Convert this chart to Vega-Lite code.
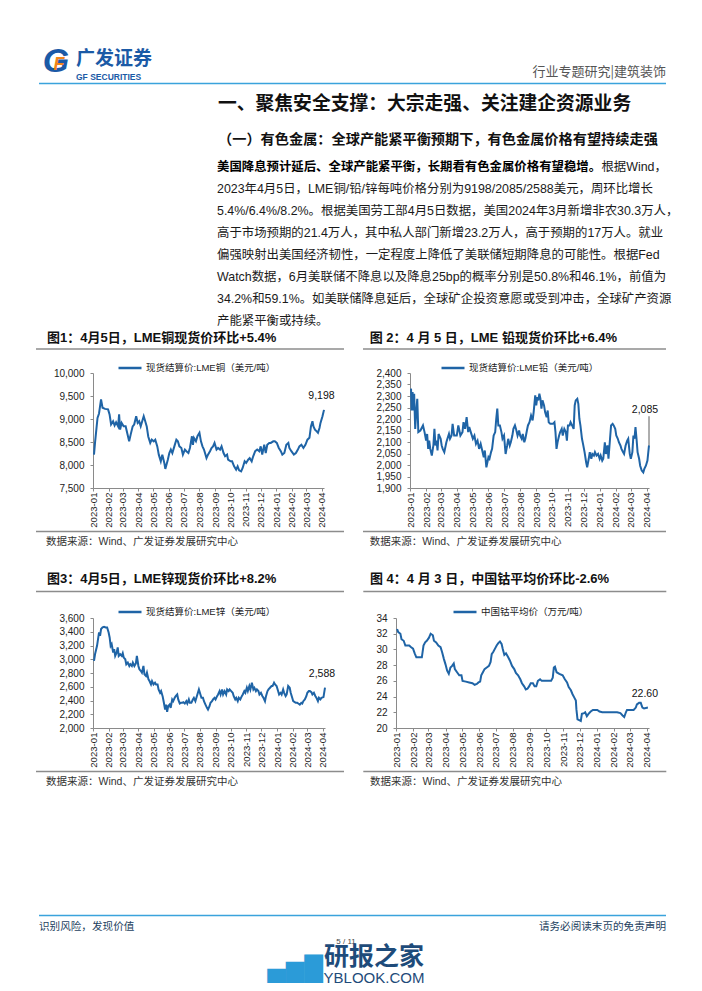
{
"$schema": "https://vega.github.io/schema/vega-lite/v6.json",
"background": "white",
"padding": {"left": 35, "top": 45, "right": 0, "bottom": 0},
"config": {
  "view": {"stroke": null},
  "font": "Liberation Sans, Noto Sans CJK SC",
  "text": {"font": "Liberation Sans, Noto Sans CJK SC"},
  "title": {"font": "Liberation Sans, Noto Sans CJK SC", "color": "#111"},
  "axis": {"labelFont": "Liberation Sans", "labelColor": "#222", "domainColor": "#8a8a8a", "tickColor": "#8a8a8a", "tickSize": 3, "grid": false, "labelFontSize": 10, "labelOverlap": false},
  "axisY": {"labelOverlap": false, "labelSeparation": -60, "labelPadding": 6},
  "legend": {"symbolType": "stroke", "symbolSize": 529, "symbolStrokeWidth": 2.5, "labelFontSize": 9.5, "labelFont": "Liberation Sans, Noto Sans CJK SC", "labelColor": "#222", "labelLimit": 400, "padding": 0, "labelOffset": 3, "direction": "horizontal"}
},
"spacing": 0,
"align": "none",
"resolve": {"scale": {"color": "independent"}, "legend": {"color": "independent"}},
"vconcat": [
  {
    "width": 573, "height": 23,
    "layer": [
      {"data": {"values": [{"k": 1}]}, "mark": {"type": "rule", "color": "#3AA3DC", "strokeWidth": 1.5},
       "encoding": {"x": {"datum": -0.0942, "type": "quantitative", "scale": {"domain": [0, 1]}, "axis": null}, "x2": {"datum": 1}, "y": {"datum": 0.5, "type": "quantitative", "scale": {"domain": [0, 1]}, "axis": null}}},
      {"data": {"values": [{"t": "行业专题研究|建筑装饰"}]}, "mark": {"type": "text", "align": "right", "baseline": "middle", "dy": -11.5, "fontSize": 13, "color": "#555", "font": "Noto Sans CJK SC"},
       "encoding": {"x": {"datum": 1, "type": "quantitative"}, "y": {"datum": 0.5, "type": "quantitative"}, "text": {"field": "t"}}},
      {"data": {"values": [{"t": "G"}]}, "mark": {"type": "text", "align": "center", "baseline": "middle", "dx": -37, "dy": -21.5, "fontSize": 34, "fontWeight": "bold", "fontStyle": "italic", "color": "#1B5AA6", "font": "Liberation Sans"},
       "encoding": {"x": {"datum": 0, "type": "quantitative"}, "y": {"datum": 0.5, "type": "quantitative"}, "text": {"field": "t"}}},
      {"data": {"values": [{"t": "F"}]}, "mark": {"type": "text", "align": "center", "baseline": "middle", "dx": -34, "dy": -19, "fontSize": 18, "fontWeight": "bold", "fontStyle": "italic", "color": "#F08519", "font": "Liberation Sans"},
       "encoding": {"x": {"datum": 0, "type": "quantitative"}, "y": {"datum": 0.5, "type": "quantitative"}, "text": {"field": "t"}}},
      {"data": {"values": [{"t": "广发证券"}]}, "mark": {"type": "text", "align": "left", "baseline": "middle", "dx": -17, "dy": -24.5, "fontSize": 19, "fontWeight": "bold", "color": "#1B5AA6", "font": "Noto Sans CJK SC"},
       "encoding": {"x": {"datum": 0, "type": "quantitative"}, "y": {"datum": 0.5, "type": "quantitative"}, "text": {"field": "t"}}},
      {"data": {"values": [{"t": "GF SECURITIES"}]}, "mark": {"type": "text", "align": "left", "baseline": "middle", "dx": -17, "dy": -6.5, "fontSize": 8.5, "fontWeight": "bold", "color": "#1B5AA6", "font": "Liberation Sans"},
       "encoding": {"x": {"datum": 0, "type": "quantitative"}, "y": {"datum": 0.5, "type": "quantitative"}, "text": {"field": "t"}}}
    ]
  },
  {
    "width": 573, "height": 176,
    "title": {"text": "一、聚焦安全支撑：大宗走强、关注建企资源业务", "subtitle": "（一）有色金属：全球产能紧平衡预期下，有色金属价格有望持续走强", "anchor": "start", "frame": "group", "dx": 125, "fontSize": 18.8, "fontWeight": "bold", "font": "Noto Sans CJK SC", "color": "#111", "subtitleFontSize": 14.2, "subtitleFontWeight": "bold", "subtitleFont": "Noto Sans CJK SC", "subtitleColor": "#111", "subtitlePadding": 19, "offset": 9},
    "layer": [
      {"data": {"values": [{"line": 1, "t": "美国降息预计延后、全球产能紧平衡，长期看有色金属价格有望稳增。"}]},
       "mark": {"type": "text", "align": "left", "baseline": "middle", "dx": 124, "fontSize": 12.4, "fontWeight": "bold", "color": "#000"},
       "encoding": {"x": {"datum": 0, "type": "quantitative", "scale": {"domain": [0, 1]}, "axis": null}, "y": {"field": "line", "type": "ordinal", "scale": {"domain": [1, 2, 3, 4, 5, 6, 7, 8]}, "axis": null}, "text": {"field": "t"}}},
      {"data": {"values": [{"line": 1, "t": "根据Wind，"}]},
       "mark": {"type": "text", "align": "left", "baseline": "middle", "dx": 508.4, "fontSize": 12.4, "color": "#1a1a1a"},
       "encoding": {"x": {"datum": 0, "type": "quantitative"}, "y": {"field": "line", "type": "ordinal"}, "text": {"field": "t"}}},
      {"data": {"values": [
        {"line": 2, "t": "2023年4月5日，LME铜/铅/锌每吨价格分别为9198/2085/2588美元，周环比增长"},
        {"line": 3, "t": "5.4%/6.4%/8.2%。根据美国劳工部4月5日数据，美国2024年3月新增非农30.3万人，"},
        {"line": 4, "t": "高于市场预期的21.4万人，其中私人部门新增23.2万人，高于预期的17万人。就业"},
        {"line": 5, "t": "偏强映射出美国经济韧性，一定程度上降低了美联储短期降息的可能性。根据Fed"},
        {"line": 6, "t": "Watch数据，6月美联储不降息以及降息25bp的概率分别是50.8%和46.1%，前值为"},
        {"line": 7, "t": "34.2%和59.1%。如美联储降息延后，全球矿企投资意愿或受到冲击，全球矿产资源"},
        {"line": 8, "t": "产能紧平衡或持续。"}
      ]},
       "mark": {"type": "text", "align": "left", "baseline": "middle", "dx": 124, "fontSize": 12.4, "color": "#1a1a1a"},
       "encoding": {"x": {"datum": 0, "type": "quantitative"}, "y": {"field": "line", "type": "ordinal"}, "text": {"field": "t"}}}
    ]
  },
  {
    "spacing": 126.5,
    "align": "none",
    "resolve": {"scale": {"color": "independent"}, "legend": {"color": "independent"}},
    "vconcat": [
      {
        "spacing": 25,
        "align": "none",
        "resolve": {"scale": {"color": "independent"}, "legend": {"color": "independent"}},
        "vconcat": [
          {
            "spacing": 17,
            "align": "none",
            "resolve": {"scale": {"color": "independent"}, "legend": {"color": "independent"}},
            "hconcat": [
              {
                "spacing": 2,
                "align": "none",
                "resolve": {"scale": {"color": "independent"}, "legend": {"color": "independent"}},
                "vconcat": [
                  {"width": 251, "height": 8, "data": {"values": [{"k": 1}]},
                   "title": {"text": "图1：4月5日，LME铜现货价环比+5.4%", "anchor": "start", "frame": "group", "dx": -46, "offset": 0, "fontSize": 13, "fontWeight": "bold"},
                   "mark": {"type": "rule", "color": "#8c8c8c", "strokeWidth": 1.3},
                   "encoding": {"x": {"datum": -0.2271, "type": "quantitative", "scale": {"domain": [0, 1]}, "axis": null}, "x2": {"datum": 1}, "y": {"datum": 0.5, "type": "quantitative", "scale": {"domain": [0, 1]}, "axis": null}}},
                  {"width": 231, "height": 115,
                   "data": {"values": [
{"d":"2023-01-03","v":8225},{"d":"2023-01-05","v":8480},{"d":"2023-01-10","v":9025},{"d":"2023-01-13","v":9120},{"d":"2023-01-17","v":9425},{"d":"2023-01-20","v":9245},{"d":"2023-01-25","v":9220},{"d":"2023-01-31","v":9210},{"d":"2023-02-03","v":9100},{"d":"2023-02-06","v":8880},{"d":"2023-02-10","v":8950},{"d":"2023-02-13","v":8860},{"d":"2023-02-16","v":8930},{"d":"2023-02-20","v":8840},{"d":"2023-02-22","v":9100},{"d":"2023-02-24","v":8770},{"d":"2023-02-27","v":8915},{"d":"2023-03-03","v":8840},{"d":"2023-03-07","v":8840},{"d":"2023-03-10","v":8700},{"d":"2023-03-14","v":8515},{"d":"2023-03-17","v":8660},{"d":"2023-03-21","v":8840},{"d":"2023-03-24","v":8880},{"d":"2023-03-28","v":9060},{"d":"2023-03-31","v":8915},{"d":"2023-04-03","v":8950},{"d":"2023-04-06","v":8840},{"d":"2023-04-12","v":9060},{"d":"2023-04-14","v":8990},{"d":"2023-04-18","v":8840},{"d":"2023-04-21","v":8620},{"d":"2023-04-25","v":8480},{"d":"2023-04-28","v":8550},{"d":"2023-05-02","v":8515},{"d":"2023-05-05","v":8550},{"d":"2023-05-09","v":8405},{"d":"2023-05-12","v":8225},{"d":"2023-05-16","v":8080},{"d":"2023-05-19","v":8225},{"d":"2023-05-23","v":8045},{"d":"2023-05-25","v":7915},{"d":"2023-05-30","v":8115},{"d":"2023-06-02","v":8260},{"d":"2023-06-05","v":8335},{"d":"2023-06-08","v":8260},{"d":"2023-06-12","v":8405},{"d":"2023-06-16","v":8550},{"d":"2023-06-19","v":8515},{"d":"2023-06-22","v":8405},{"d":"2023-06-26","v":8370},{"d":"2023-06-29","v":8225},{"d":"2023-07-03","v":8335},{"d":"2023-07-06","v":8300},{"d":"2023-07-10","v":8260},{"d":"2023-07-13","v":8370},{"d":"2023-07-17","v":8625},{"d":"2023-07-19","v":8440},{"d":"2023-07-21","v":8590},{"d":"2023-07-25","v":8515},{"d":"2023-07-28","v":8625},{"d":"2023-08-01","v":8700},{"d":"2023-08-04","v":8515},{"d":"2023-08-07","v":8405},{"d":"2023-08-10","v":8335},{"d":"2023-08-15","v":8150},{"d":"2023-08-18","v":8225},{"d":"2023-08-22","v":8300},{"d":"2023-08-25","v":8370},{"d":"2023-08-28","v":8405},{"d":"2023-08-31","v":8480},{"d":"2023-09-04","v":8335},{"d":"2023-09-07","v":8370},{"d":"2023-09-11","v":8335},{"d":"2023-09-14","v":8405},{"d":"2023-09-18","v":8260},{"d":"2023-09-21","v":8190},{"d":"2023-09-25","v":8225},{"d":"2023-09-27","v":8115},{"d":"2023-10-02","v":8080},{"d":"2023-10-05","v":8080},{"d":"2023-10-09","v":7970},{"d":"2023-10-13","v":7900},{"d":"2023-10-16","v":7970},{"d":"2023-10-19","v":7885},{"d":"2023-10-23","v":7860},{"d":"2023-10-26","v":7935},{"d":"2023-10-30","v":8080},{"d":"2023-11-02","v":8045},{"d":"2023-11-06","v":8115},{"d":"2023-11-09","v":8150},{"d":"2023-11-13","v":8080},{"d":"2023-11-16","v":8190},{"d":"2023-11-20","v":8300},{"d":"2023-11-24","v":8335},{"d":"2023-11-28","v":8300},{"d":"2023-12-01","v":8405},{"d":"2023-12-04","v":8225},{"d":"2023-12-08","v":8440},{"d":"2023-12-11","v":8260},{"d":"2023-12-14","v":8440},{"d":"2023-12-18","v":8480},{"d":"2023-12-21","v":8480},{"d":"2023-12-26","v":8515},{"d":"2023-12-29","v":8515},{"d":"2024-01-02","v":8480},{"d":"2024-01-06","v":8370},{"d":"2024-01-10","v":8300},{"d":"2024-01-13","v":8225},{"d":"2024-01-17","v":8260},{"d":"2024-01-21","v":8440},{"d":"2024-01-25","v":8480},{"d":"2024-01-27","v":8370},{"d":"2024-01-31","v":8300},{"d":"2024-02-05","v":8225},{"d":"2024-02-09","v":8260},{"d":"2024-02-13","v":8335},{"d":"2024-02-16","v":8405},{"d":"2024-02-20","v":8440},{"d":"2024-02-24","v":8370},{"d":"2024-02-28","v":8440},{"d":"2024-03-03","v":8550},{"d":"2024-03-07","v":8590},{"d":"2024-03-10","v":8840},{"d":"2024-03-13","v":8950},{"d":"2024-03-15","v":8840},{"d":"2024-03-18","v":8770},{"d":"2024-03-21","v":8735},{"d":"2024-03-24","v":8700},{"d":"2024-03-27","v":8805},{"d":"2024-03-29","v":8915},{"d":"2024-04-02","v":9060},{"d":"2024-04-05","v":9198}
                   ]},
                   "layer": [
                     {"mark": {"type": "line", "strokeWidth": 2},
                      "encoding": {
                        "x": {"field": "d", "type": "temporal", "scale": {"type": "utc", "domain": [{"year": 2023, "month": 1, "date": 1, "utc": true}, {"year": 2024, "month": 4, "date": 5, "utc": true}]}, "axis": {"format": "%Y-%m", "labelAngle": 270, "tickCount": {"interval": "month", "step": 1}, "title": null, "labelFontSize": 9.6, "labelPadding": 1, "labelFlush": false, "labelOverlap": false}},
                        "y": {"field": "v", "type": "quantitative", "scale": {"domain": [7500, 10000], "nice": false, "zero": false}, "axis": {"values": [7500, 8000, 8500, 9000, 9500, 10000], "format": ",.0f", "title": null, "labelOverlap": false, "labelSeparation": -60}},
                        "color": {"datum": "现货结算价:LME铜（美元/吨）", "scale": {"range": ["#1F64A6"]}, "legend": {"title": null, "orient": "none", "legendX": 24, "legendY": -18}}
                      }},
                     {"transform": [{"filter": "time(datum.d) == utc(2024,3,5)"}],
                      "mark": {"type": "text", "dy": -13.5, "dx": -2.5, "fontSize": 10.5, "color": "#111"},
                      "encoding": {"x": {"field": "d", "type": "temporal", "axis": {"format": "%Y-%m", "labelAngle": 270, "tickCount": {"interval": "month", "step": 1}, "title": null, "labelFontSize": 9.6, "labelPadding": 1, "labelFlush": false, "labelOverlap": false}}, "y": {"field": "v", "type": "quantitative", "axis": {"values": [7500, 8000, 8500, 9000, 9500, 10000], "format": ",.0f", "title": null, "labelOverlap": false, "labelSeparation": -60}}, "text": {"field": "v", "type": "quantitative", "format": ",.0f"}}}
                   ]},
                  {"width": 251, "height": 1, "data": {"values": [{"k": 1}]},
                   "title": {"text": "数据来源：Wind、广发证券发展研究中心", "orient": "bottom", "anchor": "start", "frame": "group", "dx": -47, "offset": 5, "fontSize": 10.5, "fontWeight": "normal", "color": "#333"},
                   "mark": {"type": "rule", "color": "#8c8c8c", "strokeWidth": 1.3},
                   "encoding": {"x": {"datum": -0.2271, "type": "quantitative", "scale": {"domain": [0, 1]}, "axis": null}, "x2": {"datum": 1}, "y": {"datum": 0.5, "type": "quantitative", "scale": {"domain": [0, 1]}, "axis": null}}}
                ]
              },
              {
                "spacing": 2,
                "align": "none",
                "resolve": {"scale": {"color": "independent"}, "legend": {"color": "independent"}},
                "vconcat": [
                  {"width": 256, "height": 8, "data": {"values": [{"k": 1}]},
                   "title": {"text": "图 2：4 月 5 日，LME 铅现货价环比+6.4%", "anchor": "start", "frame": "group", "dx": -40.3, "offset": 0, "fontSize": 13, "fontWeight": "bold"},
                   "mark": {"type": "rule", "color": "#8c8c8c", "strokeWidth": 1.3},
                   "encoding": {"x": {"datum": -0.1836, "type": "quantitative", "scale": {"domain": [0, 1]}, "axis": null}, "x2": {"datum": 1}, "y": {"datum": 0.5, "type": "quantitative", "scale": {"domain": [0, 1]}, "axis": null}}},
                  {"width": 239, "height": 115,
                   "data": {"values": [
{"d":"2023-01-03","v":2332},{"d":"2023-01-04","v":2237},{"d":"2023-01-06","v":2317},{"d":"2023-01-07","v":2237},{"d":"2023-01-09","v":2310},{"d":"2023-01-11","v":2157},{"d":"2023-01-13","v":2230},{"d":"2023-01-15","v":2288},{"d":"2023-01-17","v":2143},{"d":"2023-01-21","v":2150},{"d":"2023-01-26","v":2172},{"d":"2023-01-29","v":2143},{"d":"2023-02-01","v":2106},{"d":"2023-02-03","v":2135},{"d":"2023-02-05","v":2070},{"d":"2023-02-07","v":2106},{"d":"2023-02-09","v":2070},{"d":"2023-02-12","v":2041},{"d":"2023-02-15","v":2085},{"d":"2023-02-17","v":2157},{"d":"2023-02-19","v":2085},{"d":"2023-02-21","v":2106},{"d":"2023-02-23","v":2063},{"d":"2023-02-25","v":2135},{"d":"2023-03-01","v":2114},{"d":"2023-03-03","v":2085},{"d":"2023-03-05","v":2070},{"d":"2023-03-08","v":2056},{"d":"2023-03-12","v":2099},{"d":"2023-03-14","v":2114},{"d":"2023-03-17","v":2135},{"d":"2023-03-19","v":2114},{"d":"2023-03-22","v":2128},{"d":"2023-03-24","v":2179},{"d":"2023-03-27","v":2128},{"d":"2023-04-01","v":2128},{"d":"2023-04-04","v":2172},{"d":"2023-04-08","v":2128},{"d":"2023-04-12","v":2143},{"d":"2023-04-14","v":2186},{"d":"2023-04-17","v":2157},{"d":"2023-04-20","v":2208},{"d":"2023-04-23","v":2143},{"d":"2023-04-25","v":2165},{"d":"2023-04-28","v":2143},{"d":"2023-05-02","v":2114},{"d":"2023-05-05","v":2128},{"d":"2023-05-08","v":2092},{"d":"2023-05-11","v":2106},{"d":"2023-05-14","v":2070},{"d":"2023-05-17","v":2092},{"d":"2023-05-20","v":2063},{"d":"2023-05-23","v":2034},{"d":"2023-05-25","v":2063},{"d":"2023-05-28","v":1990},{"d":"2023-06-01","v":2034},{"d":"2023-06-03","v":2027},{"d":"2023-06-06","v":2056},{"d":"2023-06-08","v":2070},{"d":"2023-06-11","v":2128},{"d":"2023-06-14","v":2143},{"d":"2023-06-16","v":2201},{"d":"2023-06-18","v":2245},{"d":"2023-06-20","v":2172},{"d":"2023-06-23","v":2172},{"d":"2023-06-26","v":2143},{"d":"2023-06-28","v":2114},{"d":"2023-07-01","v":2128},{"d":"2023-07-04","v":2048},{"d":"2023-07-07","v":2085},{"d":"2023-07-09","v":2114},{"d":"2023-07-12","v":2085},{"d":"2023-07-14","v":2099},{"d":"2023-07-17","v":2128},{"d":"2023-07-19","v":2157},{"d":"2023-07-22","v":2172},{"d":"2023-07-24","v":2157},{"d":"2023-07-27","v":2128},{"d":"2023-07-30","v":2150},{"d":"2023-08-01","v":2128},{"d":"2023-08-04","v":2114},{"d":"2023-08-06","v":2135},{"d":"2023-08-09","v":2099},{"d":"2023-08-11","v":2114},{"d":"2023-08-14","v":2150},{"d":"2023-08-16","v":2172},{"d":"2023-08-19","v":2186},{"d":"2023-08-22","v":2215},{"d":"2023-08-25","v":2194},{"d":"2023-08-27","v":2230},{"d":"2023-08-30","v":2303},{"d":"2023-09-01","v":2259},{"d":"2023-09-03","v":2295},{"d":"2023-09-05","v":2281},{"d":"2023-09-07","v":2310},{"d":"2023-09-09","v":2288},{"d":"2023-09-11","v":2245},{"d":"2023-09-13","v":2281},{"d":"2023-09-16","v":2259},{"d":"2023-09-18","v":2230},{"d":"2023-09-21","v":2208},{"d":"2023-09-23","v":2237},{"d":"2023-09-25","v":2186},{"d":"2023-09-28","v":2179},{"d":"2023-10-01","v":2179},{"d":"2023-10-03","v":2179},{"d":"2023-10-06","v":2186},{"d":"2023-10-08","v":2143},{"d":"2023-10-10","v":2070},{"d":"2023-10-12","v":2099},{"d":"2023-10-15","v":2128},{"d":"2023-10-17","v":2143},{"d":"2023-10-20","v":2157},{"d":"2023-10-22","v":2128},{"d":"2023-10-25","v":2157},{"d":"2023-10-28","v":2143},{"d":"2023-10-30","v":2106},{"d":"2023-11-01","v":2172},{"d":"2023-11-04","v":2172},{"d":"2023-11-06","v":2186},{"d":"2023-11-09","v":2172},{"d":"2023-11-12","v":2157},{"d":"2023-11-14","v":2259},{"d":"2023-11-16","v":2281},{"d":"2023-11-19","v":2288},{"d":"2023-11-21","v":2266},{"d":"2023-11-23","v":2201},{"d":"2023-11-25","v":2172},{"d":"2023-11-28","v":2114},{"d":"2023-11-30","v":2092},{"d":"2023-12-03","v":2056},{"d":"2023-12-06","v":2012},{"d":"2023-12-08","v":1990},{"d":"2023-12-11","v":2027},{"d":"2023-12-13","v":2056},{"d":"2023-12-16","v":2027},{"d":"2023-12-18","v":2048},{"d":"2023-12-21","v":2041},{"d":"2023-12-23","v":2056},{"d":"2023-12-26","v":2041},{"d":"2023-12-29","v":2048},{"d":"2024-01-01","v":2027},{"d":"2024-01-03","v":2041},{"d":"2024-01-06","v":2019},{"d":"2024-01-08","v":2027},{"d":"2024-01-11","v":2099},{"d":"2024-01-13","v":2048},{"d":"2024-01-16","v":2085},{"d":"2024-01-18","v":2027},{"d":"2024-01-21","v":2114},{"d":"2024-01-23","v":2172},{"d":"2024-01-26","v":2179},{"d":"2024-01-28","v":2172},{"d":"2024-01-31","v":2157},{"d":"2024-02-02","v":2128},{"d":"2024-02-05","v":2114},{"d":"2024-02-07","v":2099},{"d":"2024-02-10","v":2085},{"d":"2024-02-12","v":2070},{"d":"2024-02-15","v":2056},{"d":"2024-02-17","v":2048},{"d":"2024-02-20","v":2085},{"d":"2024-02-23","v":2106},{"d":"2024-02-25","v":2114},{"d":"2024-02-28","v":2048},{"d":"2024-03-01","v":2027},{"d":"2024-03-04","v":2056},{"d":"2024-03-06","v":2128},{"d":"2024-03-08","v":2114},{"d":"2024-03-10","v":2165},{"d":"2024-03-12","v":2114},{"d":"2024-03-14","v":2056},{"d":"2024-03-17","v":2027},{"d":"2024-03-19","v":1997},{"d":"2024-03-22","v":1976},{"d":"2024-03-25","v":1968},{"d":"2024-03-27","v":1983},{"d":"2024-03-30","v":1997},{"d":"2024-04-02","v":2019},{"d":"2024-04-05","v":2085}
                   ]},
                   "layer": [
                     {"mark": {"type": "line", "strokeWidth": 2},
                      "encoding": {
                        "x": {"field": "d", "type": "temporal", "scale": {"type": "utc", "domain": [{"year": 2023, "month": 1, "date": 1, "utc": true}, {"year": 2024, "month": 4, "date": 5, "utc": true}]}, "axis": {"format": "%Y-%m", "labelAngle": 270, "tickCount": {"interval": "month", "step": 1}, "title": null, "labelFontSize": 9.6, "labelPadding": 1, "labelFlush": false, "labelOverlap": false}},
                        "y": {"field": "v", "type": "quantitative", "scale": {"domain": [1900, 2400], "nice": false, "zero": false}, "axis": {"values": [1900, 1950, 2000, 2050, 2100, 2150, 2200, 2250, 2300, 2350, 2400], "format": ",.0f", "title": null, "labelOverlap": false, "labelSeparation": -60}},
                        "color": {"datum": "现货结算价:LME铅（美元/吨）", "scale": {"range": ["#1F64A6"]}, "legend": {"title": null, "orient": "none", "legendX": 30, "legendY": -18}}
                      }},
                     {"transform": [{"filter": "time(datum.d) == utc(2024,3,5)"}],
                      "mark": {"type": "rule", "color": "#333", "strokeWidth": 0.8},
                      "encoding": {"x": {"field": "d", "type": "temporal", "axis": {"format": "%Y-%m", "labelAngle": 270, "tickCount": {"interval": "month", "step": 1}, "title": null, "labelFontSize": 9.6, "labelPadding": 1, "labelFlush": false, "labelOverlap": false}}, "y": {"field": "v", "type": "quantitative", "axis": {"values": [1900, 1950, 2000, 2050, 2100, 2150, 2200, 2250, 2300, 2350, 2400], "format": ",.0f", "title": null, "labelOverlap": false, "labelSeparation": -60}}, "y2": {"datum": 2212}}},
                     {"transform": [{"filter": "time(datum.d) == utc(2024,3,5)"}],
                      "mark": {"type": "text", "dy": -35, "dx": -4, "fontSize": 10.5, "color": "#111"},
                      "encoding": {"x": {"field": "d", "type": "temporal", "axis": {"format": "%Y-%m", "labelAngle": 270, "tickCount": {"interval": "month", "step": 1}, "title": null, "labelFontSize": 9.6, "labelPadding": 1, "labelFlush": false, "labelOverlap": false}}, "y": {"field": "v", "type": "quantitative", "axis": {"values": [1900, 1950, 2000, 2050, 2100, 2150, 2200, 2250, 2300, 2350, 2400], "format": ",.0f", "title": null, "labelOverlap": false, "labelSeparation": -60}}, "text": {"field": "v", "type": "quantitative", "format": ",.0f"}}}
                   ]},
                  {"width": 256, "height": 1, "data": {"values": [{"k": 1}]},
                   "title": {"text": "数据来源：Wind、广发证券发展研究中心", "orient": "bottom", "anchor": "start", "frame": "group", "dx": -40.3, "offset": 5, "fontSize": 10.5, "fontWeight": "normal", "color": "#333"},
                   "mark": {"type": "rule", "color": "#8c8c8c", "strokeWidth": 1.3},
                   "encoding": {"x": {"datum": -0.1836, "type": "quantitative", "scale": {"domain": [0, 1]}, "axis": null}, "x2": {"datum": 1}, "y": {"datum": 0.5, "type": "quantitative", "scale": {"domain": [0, 1]}, "axis": null}}}
                ]
              }
            ]
          },
          {
            "spacing": 17,
            "align": "none",
            "resolve": {"scale": {"color": "independent"}, "legend": {"color": "independent"}},
            "hconcat": [
              {
                "spacing": 2,
                "align": "none",
                "resolve": {"scale": {"color": "independent"}, "legend": {"color": "independent"}},
                "vconcat": [
                  {"width": 251, "height": 11, "data": {"values": [{"k": 1}]},
                   "title": {"text": "图3：4月5日，LME锌现货价环比+8.2%", "anchor": "start", "frame": "group", "dx": -46, "offset": 0, "fontSize": 13, "fontWeight": "bold"},
                   "mark": {"type": "rule", "color": "#8c8c8c", "strokeWidth": 1.3},
                   "encoding": {"x": {"datum": -0.2271, "type": "quantitative", "scale": {"domain": [0, 1]}, "axis": null}, "x2": {"datum": 1}, "y": {"datum": 0.5, "type": "quantitative", "scale": {"domain": [0, 1]}, "axis": null}}},
                  {"width": 232, "height": 110,
                   "data": {"values": [
{"d":"2023-01-03","v":2976},{"d":"2023-01-05","v":3073},{"d":"2023-01-09","v":3195},{"d":"2023-01-11","v":3293},{"d":"2023-01-13","v":3390},{"d":"2023-01-15","v":3341},{"d":"2023-01-17","v":3439},{"d":"2023-01-20","v":3463},{"d":"2023-01-23","v":3473},{"d":"2023-01-26","v":3463},{"d":"2023-01-29","v":3463},{"d":"2023-02-01","v":3390},{"d":"2023-02-03","v":3317},{"d":"2023-02-05","v":3195},{"d":"2023-02-07","v":3220},{"d":"2023-02-10","v":3098},{"d":"2023-02-12","v":3146},{"d":"2023-02-14","v":3049},{"d":"2023-02-17","v":3098},{"d":"2023-02-19","v":3171},{"d":"2023-02-21","v":3049},{"d":"2023-02-24","v":3073},{"d":"2023-02-27","v":3049},{"d":"2023-03-01","v":3088},{"d":"2023-03-03","v":3024},{"d":"2023-03-06","v":3000},{"d":"2023-03-08","v":2927},{"d":"2023-03-11","v":2951},{"d":"2023-03-14","v":2902},{"d":"2023-03-16","v":2927},{"d":"2023-03-19","v":2902},{"d":"2023-03-21","v":2951},{"d":"2023-03-24","v":2902},{"d":"2023-03-27","v":2941},{"d":"2023-03-29","v":3049},{"d":"2023-04-01","v":2902},{"d":"2023-04-03","v":2854},{"d":"2023-04-06","v":2829},{"d":"2023-04-08","v":2805},{"d":"2023-04-11","v":2902},{"d":"2023-04-13","v":2780},{"d":"2023-04-16","v":2756},{"d":"2023-04-18","v":2805},{"d":"2023-04-21","v":2707},{"d":"2023-04-23","v":2683},{"d":"2023-04-26","v":2634},{"d":"2023-04-28","v":2683},{"d":"2023-05-01","v":2634},{"d":"2023-05-04","v":2659},{"d":"2023-05-06","v":2634},{"d":"2023-05-09","v":2634},{"d":"2023-05-11","v":2561},{"d":"2023-05-14","v":2512},{"d":"2023-05-16","v":2537},{"d":"2023-05-19","v":2463},{"d":"2023-05-21","v":2390},{"d":"2023-05-24","v":2268},{"d":"2023-05-26","v":2341},{"d":"2023-05-28","v":2234},{"d":"2023-05-30","v":2317},{"d":"2023-06-02","v":2341},{"d":"2023-06-04","v":2293},{"d":"2023-06-07","v":2415},{"d":"2023-06-09","v":2390},{"d":"2023-06-12","v":2439},{"d":"2023-06-14","v":2463},{"d":"2023-06-17","v":2488},{"d":"2023-06-19","v":2415},{"d":"2023-06-22","v":2356},{"d":"2023-06-24","v":2366},{"d":"2023-06-27","v":2366},{"d":"2023-06-29","v":2376},{"d":"2023-07-02","v":2356},{"d":"2023-07-05","v":2390},{"d":"2023-07-07","v":2356},{"d":"2023-07-10","v":2415},{"d":"2023-07-12","v":2366},{"d":"2023-07-15","v":2366},{"d":"2023-07-18","v":2415},{"d":"2023-07-20","v":2439},{"d":"2023-07-23","v":2390},{"d":"2023-07-25","v":2439},{"d":"2023-07-28","v":2512},{"d":"2023-07-30","v":2561},{"d":"2023-08-02","v":2488},{"d":"2023-08-04","v":2439},{"d":"2023-08-07","v":2439},{"d":"2023-08-09","v":2390},{"d":"2023-08-12","v":2341},{"d":"2023-08-15","v":2293},{"d":"2023-08-17","v":2268},{"d":"2023-08-20","v":2317},{"d":"2023-08-22","v":2366},{"d":"2023-08-25","v":2390},{"d":"2023-08-27","v":2415},{"d":"2023-08-30","v":2439},{"d":"2023-09-01","v":2415},{"d":"2023-09-04","v":2463},{"d":"2023-09-06","v":2488},{"d":"2023-09-09","v":2537},{"d":"2023-09-11","v":2488},{"d":"2023-09-14","v":2561},{"d":"2023-09-16","v":2488},{"d":"2023-09-19","v":2537},{"d":"2023-09-22","v":2488},{"d":"2023-09-24","v":2561},{"d":"2023-09-27","v":2537},{"d":"2023-09-29","v":2561},{"d":"2023-10-02","v":2537},{"d":"2023-10-05","v":2512},{"d":"2023-10-07","v":2463},{"d":"2023-10-10","v":2415},{"d":"2023-10-12","v":2439},{"d":"2023-10-15","v":2390},{"d":"2023-10-17","v":2439},{"d":"2023-10-20","v":2415},{"d":"2023-10-23","v":2463},{"d":"2023-10-25","v":2488},{"d":"2023-10-28","v":2537},{"d":"2023-10-30","v":2512},{"d":"2023-11-02","v":2585},{"d":"2023-11-04","v":2537},{"d":"2023-11-07","v":2610},{"d":"2023-11-09","v":2561},{"d":"2023-11-12","v":2659},{"d":"2023-11-15","v":2561},{"d":"2023-11-17","v":2585},{"d":"2023-11-20","v":2537},{"d":"2023-11-22","v":2561},{"d":"2023-11-25","v":2537},{"d":"2023-11-27","v":2488},{"d":"2023-11-30","v":2512},{"d":"2023-12-03","v":2463},{"d":"2023-12-05","v":2439},{"d":"2023-12-08","v":2390},{"d":"2023-12-10","v":2463},{"d":"2023-12-13","v":2537},{"d":"2023-12-15","v":2561},{"d":"2023-12-18","v":2585},{"d":"2023-12-21","v":2610},{"d":"2023-12-23","v":2610},{"d":"2023-12-26","v":2659},{"d":"2023-12-28","v":2634},{"d":"2023-12-31","v":2610},{"d":"2024-01-03","v":2537},{"d":"2024-01-05","v":2488},{"d":"2024-01-08","v":2512},{"d":"2024-01-10","v":2488},{"d":"2024-01-13","v":2561},{"d":"2024-01-15","v":2512},{"d":"2024-01-18","v":2463},{"d":"2024-01-20","v":2488},{"d":"2024-01-23","v":2610},{"d":"2024-01-26","v":2585},{"d":"2024-01-28","v":2512},{"d":"2024-01-31","v":2439},{"d":"2024-02-02","v":2390},{"d":"2024-02-05","v":2376},{"d":"2024-02-07","v":2366},{"d":"2024-02-10","v":2366},{"d":"2024-02-12","v":2356},{"d":"2024-02-15","v":2341},{"d":"2024-02-18","v":2366},{"d":"2024-02-20","v":2356},{"d":"2024-02-22","v":2390},{"d":"2024-02-25","v":2415},{"d":"2024-02-28","v":2463},{"d":"2024-03-01","v":2512},{"d":"2024-03-04","v":2537},{"d":"2024-03-06","v":2537},{"d":"2024-03-09","v":2522},{"d":"2024-03-11","v":2488},{"d":"2024-03-14","v":2512},{"d":"2024-03-17","v":2463},{"d":"2024-03-19","v":2439},{"d":"2024-03-22","v":2390},{"d":"2024-03-24","v":2439},{"d":"2024-03-27","v":2415},{"d":"2024-03-29","v":2439},{"d":"2024-04-02","v":2450},{"d":"2024-04-05","v":2588}
                   ]},
                   "layer": [
                     {"mark": {"type": "line", "strokeWidth": 2},
                      "encoding": {
                        "x": {"field": "d", "type": "temporal", "scale": {"type": "utc", "domain": [{"year": 2023, "month": 1, "date": 1, "utc": true}, {"year": 2024, "month": 4, "date": 5, "utc": true}]}, "axis": {"format": "%Y-%m", "labelAngle": 270, "tickCount": {"interval": "month", "step": 1}, "title": null, "labelFontSize": 9.6, "labelPadding": 1, "labelFlush": false, "labelOverlap": false}},
                        "y": {"field": "v", "type": "quantitative", "scale": {"domain": [2000, 3600], "nice": false, "zero": false}, "axis": {"values": [2000, 2200, 2400, 2600, 2800, 3000, 3200, 3400, 3600], "format": ",.0f", "title": null, "labelOverlap": false, "labelSeparation": -60}},
                        "color": {"datum": "现货结算价:LME锌（美元/吨）", "scale": {"range": ["#1F64A6"]}, "legend": {"title": null, "orient": "none", "legendX": 24, "legendY": -19}}
                      }},
                     {"transform": [{"filter": "time(datum.d) == utc(2024,3,5)"}],
                      "mark": {"type": "text", "dy": -14, "dx": -3, "fontSize": 10.5, "color": "#111"},
                      "encoding": {"x": {"field": "d", "type": "temporal", "axis": {"format": "%Y-%m", "labelAngle": 270, "tickCount": {"interval": "month", "step": 1}, "title": null, "labelFontSize": 9.6, "labelPadding": 1, "labelFlush": false, "labelOverlap": false}}, "y": {"field": "v", "type": "quantitative", "axis": {"values": [2000, 2200, 2400, 2600, 2800, 3000, 3200, 3400, 3600], "format": ",.0f", "title": null, "labelOverlap": false, "labelSeparation": -60}}, "text": {"field": "v", "type": "quantitative", "format": ",.0f"}}}
                   ]},
                  {"width": 251, "height": 1, "data": {"values": [{"k": 1}]},
                   "title": {"text": "数据来源：Wind、广发证券发展研究中心", "orient": "bottom", "anchor": "start", "frame": "group", "dx": -47, "offset": 5, "fontSize": 10.5, "fontWeight": "normal", "color": "#333"},
                   "mark": {"type": "rule", "color": "#8c8c8c", "strokeWidth": 1.3},
                   "encoding": {"x": {"datum": -0.2271, "type": "quantitative", "scale": {"domain": [0, 1]}, "axis": null}, "x2": {"datum": 1}, "y": {"datum": 0.5, "type": "quantitative", "scale": {"domain": [0, 1]}, "axis": null}}}
                ]
              },
              {
                "spacing": 2,
                "align": "none",
                "resolve": {"scale": {"color": "independent"}, "legend": {"color": "independent"}},
                "vconcat": [
                  {"width": 270.3, "height": 11, "data": {"values": [{"k": 1}]},
                   "title": {"text": "图 4：4 月 3 日，中国钴平均价环比-2.6%", "anchor": "start", "frame": "group", "dx": -26, "offset": 0, "fontSize": 13, "fontWeight": "bold"},
                   "mark": {"type": "rule", "color": "#8c8c8c", "strokeWidth": 1.3},
                   "encoding": {"x": {"datum": -0.121, "type": "quantitative", "scale": {"domain": [0, 1]}, "axis": null}, "x2": {"datum": 1}, "y": {"datum": 0.5, "type": "quantitative", "scale": {"domain": [0, 1]}, "axis": null}}},
                  {"width": 253, "height": 110,
                   "data": {"values": [
{"d":"2023-01-03","v":32.6},{"d":"2023-01-05","v":32.2},{"d":"2023-01-09","v":32.0},{"d":"2023-01-11","v":31.3},{"d":"2023-01-15","v":31.1},{"d":"2023-01-18","v":30.5},{"d":"2023-01-25","v":30.5},{"d":"2023-01-28","v":30.3},{"d":"2023-02-01","v":30.1},{"d":"2023-02-04","v":29.5},{"d":"2023-02-07","v":29.0},{"d":"2023-02-17","v":29.0},{"d":"2023-02-20","v":30.5},{"d":"2023-02-23","v":30.9},{"d":"2023-02-26","v":31.1},{"d":"2023-03-02","v":31.5},{"d":"2023-03-05","v":32.0},{"d":"2023-03-09","v":31.8},{"d":"2023-03-11","v":31.1},{"d":"2023-03-15","v":30.9},{"d":"2023-03-19","v":30.5},{"d":"2023-03-23","v":30.3},{"d":"2023-03-26","v":29.6},{"d":"2023-03-29","v":28.8},{"d":"2023-04-01","v":28.1},{"d":"2023-04-04","v":27.3},{"d":"2023-04-07","v":26.9},{"d":"2023-04-10","v":27.7},{"d":"2023-04-13","v":27.9},{"d":"2023-04-16","v":28.2},{"d":"2023-04-18","v":27.5},{"d":"2023-04-22","v":27.1},{"d":"2023-04-26","v":26.7},{"d":"2023-04-30","v":26.7},{"d":"2023-05-02","v":26.0},{"d":"2023-05-08","v":25.9},{"d":"2023-05-14","v":25.8},{"d":"2023-05-20","v":25.7},{"d":"2023-05-24","v":25.5},{"d":"2023-05-28","v":25.6},{"d":"2023-05-31","v":25.8},{"d":"2023-06-03","v":25.9},{"d":"2023-06-05","v":26.7},{"d":"2023-06-08","v":27.1},{"d":"2023-06-11","v":27.5},{"d":"2023-06-15","v":27.7},{"d":"2023-06-19","v":27.9},{"d":"2023-06-22","v":28.4},{"d":"2023-06-24","v":29.4},{"d":"2023-06-27","v":29.7},{"d":"2023-06-30","v":30.1},{"d":"2023-07-03","v":30.5},{"d":"2023-07-06","v":30.8},{"d":"2023-07-09","v":31.0},{"d":"2023-07-12","v":30.7},{"d":"2023-07-14","v":30.1},{"d":"2023-07-17","v":29.3},{"d":"2023-07-20","v":29.5},{"d":"2023-07-24","v":29.0},{"d":"2023-07-27","v":28.6},{"d":"2023-07-31","v":27.9},{"d":"2023-08-04","v":27.5},{"d":"2023-08-07","v":27.0},{"d":"2023-08-11","v":26.7},{"d":"2023-08-15","v":26.2},{"d":"2023-08-18","v":25.7},{"d":"2023-08-22","v":25.3},{"d":"2023-08-25","v":24.9},{"d":"2023-08-28","v":25.0},{"d":"2023-08-31","v":25.3},{"d":"2023-09-03","v":25.7},{"d":"2023-09-07","v":25.7},{"d":"2023-09-10","v":25.3},{"d":"2023-09-13","v":25.3},{"d":"2023-09-16","v":26.0},{"d":"2023-09-20","v":26.2},{"d":"2023-09-23","v":26.0},{"d":"2023-10-04","v":26.0},{"d":"2023-10-10","v":26.0},{"d":"2023-10-13","v":26.4},{"d":"2023-10-15","v":27.7},{"d":"2023-10-17","v":27.8},{"d":"2023-10-20","v":27.1},{"d":"2023-10-25","v":26.9},{"d":"2023-10-31","v":26.7},{"d":"2023-11-04","v":26.2},{"d":"2023-11-08","v":25.8},{"d":"2023-11-11","v":25.2},{"d":"2023-11-15","v":24.8},{"d":"2023-11-18","v":24.3},{"d":"2023-11-21","v":23.9},{"d":"2023-11-24","v":23.5},{"d":"2023-11-25","v":22.4},{"d":"2023-11-27","v":21.1},{"d":"2023-11-30","v":21.0},{"d":"2023-12-03","v":20.9},{"d":"2023-12-05","v":21.8},{"d":"2023-12-09","v":21.9},{"d":"2023-12-11","v":22.0},{"d":"2023-12-14","v":21.5},{"d":"2023-12-17","v":21.8},{"d":"2023-12-21","v":22.1},{"d":"2023-12-25","v":22.3},{"d":"2023-12-28","v":22.3},{"d":"2024-01-02","v":22.3},{"d":"2024-01-06","v":22.1},{"d":"2024-01-11","v":22.0},{"d":"2024-01-26","v":22.0},{"d":"2024-02-07","v":22.0},{"d":"2024-02-13","v":21.9},{"d":"2024-02-17","v":21.6},{"d":"2024-02-20","v":21.4},{"d":"2024-02-23","v":22.0},{"d":"2024-02-25","v":22.3},{"d":"2024-02-29","v":22.3},{"d":"2024-03-08","v":22.3},{"d":"2024-03-12","v":22.6},{"d":"2024-03-14","v":23.0},{"d":"2024-03-18","v":23.2},{"d":"2024-03-21","v":23.2},{"d":"2024-03-24","v":22.6},{"d":"2024-03-27","v":22.5},{"d":"2024-04-03","v":22.6}
                   ]},
                   "layer": [
                     {"mark": {"type": "line", "strokeWidth": 2},
                      "encoding": {
                        "x": {"field": "d", "type": "temporal", "scale": {"type": "utc", "domain": [{"year": 2023, "month": 1, "date": 1, "utc": true}, {"year": 2024, "month": 4, "date": 5, "utc": true}]}, "axis": {"format": "%Y-%m", "labelAngle": 270, "tickCount": {"interval": "month", "step": 1}, "title": null, "labelFontSize": 9.6, "labelPadding": 1, "labelFlush": false, "labelOverlap": false}},
                        "y": {"field": "v", "type": "quantitative", "scale": {"domain": [20, 34], "nice": false, "zero": false}, "axis": {"values": [20, 22, 24, 26, 28, 30, 32, 34], "format": ".0f", "title": null, "labelOverlap": false, "labelSeparation": -60}},
                        "color": {"datum": "中国钴平均价（万元/吨）", "scale": {"range": ["#1F64A6"]}, "legend": {"title": null, "orient": "none", "legendX": 56, "legendY": -19}}
                      }},
                     {"transform": [{"filter": "time(datum.d) == utc(2024,3,3)"}],
                      "mark": {"type": "text", "dy": -14, "dx": -3, "fontSize": 10.5, "color": "#111"},
                      "encoding": {"x": {"field": "d", "type": "temporal", "axis": {"format": "%Y-%m", "labelAngle": 270, "tickCount": {"interval": "month", "step": 1}, "title": null, "labelFontSize": 9.6, "labelPadding": 1, "labelFlush": false, "labelOverlap": false}}, "y": {"field": "v", "type": "quantitative", "axis": {"values": [20, 22, 24, 26, 28, 30, 32, 34], "format": ".0f", "title": null, "labelOverlap": false, "labelSeparation": -60}}, "text": {"field": "v", "type": "quantitative", "format": ".2f"}}}
                   ]},
                  {"width": 270.3, "height": 1, "data": {"values": [{"k": 1}]},
                   "title": {"text": "数据来源：Wind、广发证券发展研究中心", "orient": "bottom", "anchor": "start", "frame": "group", "dx": -26, "offset": 5, "fontSize": 10.5, "fontWeight": "normal", "color": "#333"},
                   "mark": {"type": "rule", "color": "#8c8c8c", "strokeWidth": 1.3},
                   "encoding": {"x": {"datum": -0.121, "type": "quantitative", "scale": {"domain": [0, 1]}, "axis": null}, "x2": {"datum": 1}, "y": {"datum": 0.5, "type": "quantitative", "scale": {"domain": [0, 1]}, "axis": null}}}
                ]
              }
            ]
          }
        ]
      },
      {
        "width": 573, "height": 2,
        "layer": [
          {"data": {"values": [{"k": 1}]}, "mark": {"type": "rule", "color": "#3AA3DC", "strokeWidth": 1.5},
           "encoding": {"x": {"datum": -0.0942, "type": "quantitative", "scale": {"domain": [0, 1]}, "axis": null}, "x2": {"datum": 1}, "y": {"datum": 0.5, "type": "quantitative", "scale": {"domain": [0, 1]}, "axis": null}}},
          {"data": {"values": [{"t": "识别风险，发现价值"}]}, "mark": {"type": "text", "align": "left", "baseline": "middle", "dx": -54, "dy": 11, "fontSize": 10.6, "color": "#243F60", "font": "Noto Sans CJK SC"},
           "encoding": {"x": {"datum": 0, "type": "quantitative"}, "y": {"datum": 0.5, "type": "quantitative"}, "text": {"field": "t"}}},
          {"data": {"values": [{"t": "请务必阅读末页的免责声明"}]}, "mark": {"type": "text", "align": "right", "baseline": "middle", "dy": 11, "fontSize": 10.6, "color": "#243F60", "font": "Noto Sans CJK SC"},
           "encoding": {"x": {"datum": 1, "type": "quantitative"}, "y": {"datum": 0.5, "type": "quantitative"}, "text": {"field": "t"}}},
          {"data": {"values": [{"t": "5 / 11"}]}, "mark": {"type": "text", "align": "center", "baseline": "middle", "dx": 253, "dy": 26, "fontSize": 8, "color": "#444"},
           "encoding": {"x": {"datum": 0, "type": "quantitative"}, "y": {"datum": 0.5, "type": "quantitative"}, "text": {"field": "t"}}},
          {"data": {"values": [{"t": "▄▆█"}]}, "mark": {"type": "text", "align": "center", "baseline": "middle", "dx": 202, "dy": 54, "fontSize": 24, "color": "#2B9BD8", "font": "DejaVu Sans"},
           "encoding": {"x": {"datum": 0, "type": "quantitative"}, "y": {"datum": 0.5, "type": "quantitative"}, "text": {"field": "t"}}},
          {"data": {"values": [{"t": "研报之家"}]}, "mark": {"type": "text", "align": "center", "baseline": "middle", "dx": 281, "dy": 41, "fontSize": 25, "fontWeight": "bold", "color": "#1E4B7A", "font": "Noto Sans CJK SC"},
           "encoding": {"x": {"datum": 0, "type": "quantitative"}, "y": {"datum": 0.5, "type": "quantitative"}, "text": {"field": "t"}}},
          {"data": {"values": [{"t": "YBLOOK.COM"}]}, "mark": {"type": "text", "align": "center", "baseline": "middle", "dx": 281, "dy": 62, "fontSize": 15, "color": "#1E4B7A", "font": "Liberation Sans"},
           "encoding": {"x": {"datum": 0, "type": "quantitative"}, "y": {"datum": 0.5, "type": "quantitative"}, "text": {"field": "t"}}}
        ]
      }
    ]
  }
]
}
